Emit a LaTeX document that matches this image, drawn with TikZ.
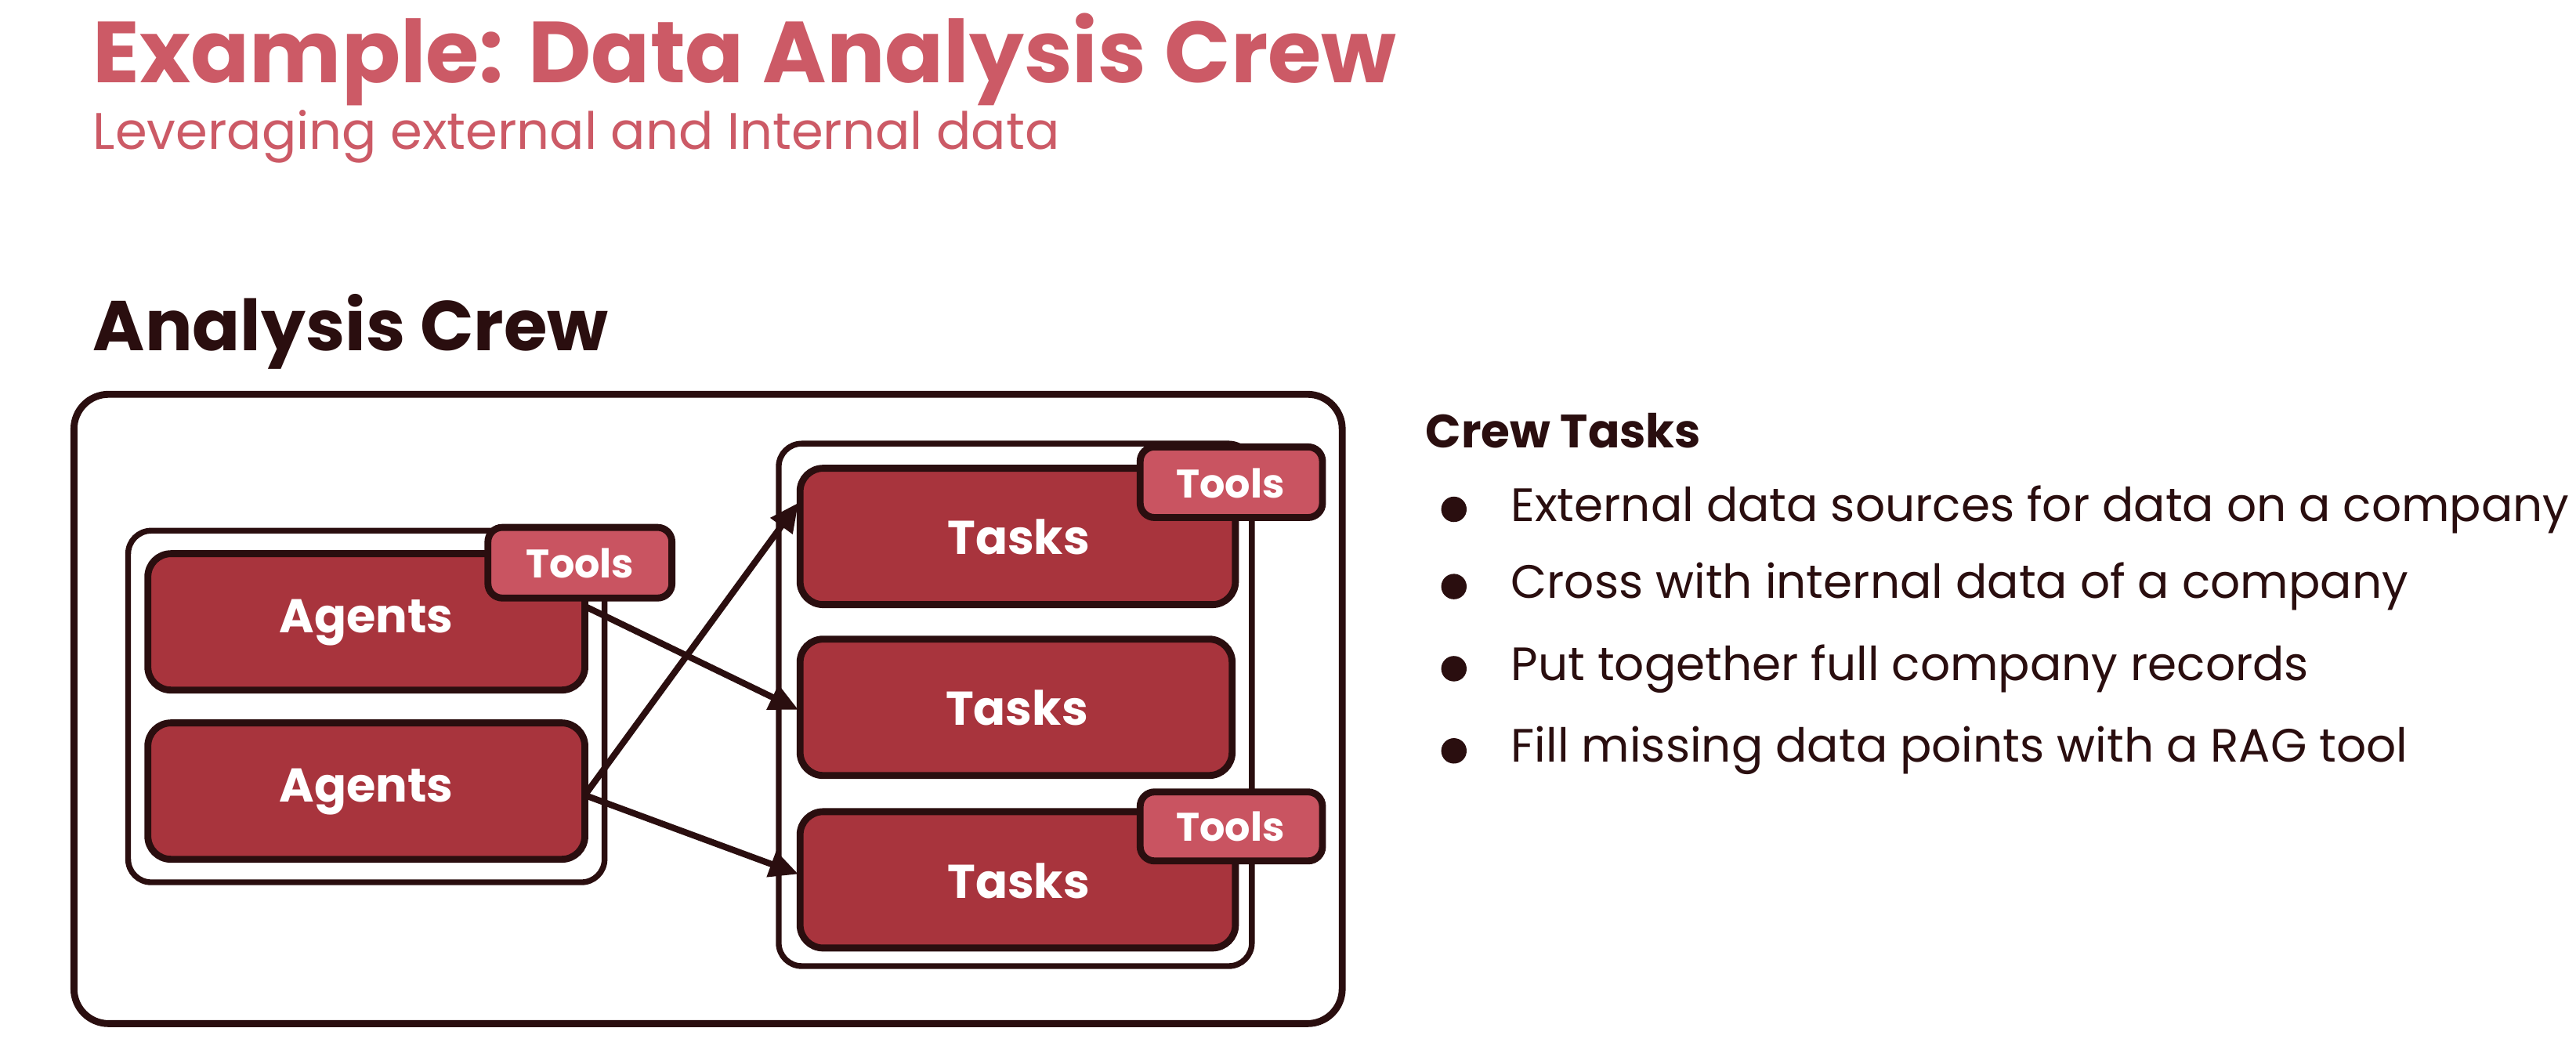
\documentclass[tikz,border=0pt]{standalone}
\usepackage{fontspec}
\setmainfont{Poppins}
\usetikzlibrary{arrows.meta}
\definecolor{ttl}{HTML}{CC5A66}
\definecolor{drk}{HTML}{2A0E0F}
\definecolor{boxr}{HTML}{A8343D}
\definecolor{tagr}{HTML}{C95461}
\tikzset{
 cont/.style={draw=drk,line width=1pt,rounded corners=4pt,fill=white},
 big/.style={draw=drk,line width=1.2pt,rounded corners=4pt,fill=boxr},
 tag/.style={draw=drk,line width=1.2pt,rounded corners=2.5pt,fill=tagr},
 bigt/.style={text=white,font=\bfseries\fontsize{8.2}{9}\selectfont},
 tagt/.style={text=white,font=\bfseries\fontsize{6.9}{8}\selectfont},
 arr/.style={draw=drk,line width=1.1pt,-{Triangle[length=5pt,width=4.5pt]}},
 bl/.style={anchor=west,text=drk,font=\fontsize{8.1}{9}\selectfont,inner sep=0pt}
}
\begin{document}
\begin{tikzpicture}[x=0.01cm,y=-0.01cm]
\useasboundingbox[fill=white] (0,0) rectangle (1568,643);
\node[anchor=west,inner sep=0pt,text=ttl,font=\bfseries\fontsize{15}{17}\selectfont] (title) at (56,36) {Example: Data Analysis Crew};
\node[anchor=west,inner sep=0pt,text=ttl,font=\fontsize{8.9}{10}\selectfont] (sub) at (56,83) {Leveraging external and Internal data};
\node[anchor=west,inner sep=0pt,text=drk,font=\bfseries\fontsize{12.2}{14}\selectfont] (ac) at (56,202) {Analysis Crew};
\draw[cont,line width=1.2pt,rounded corners=6pt] (45,240) rectangle (817,623);
% agents
\draw[cont] (78,323) rectangle (368,537);
\draw[big] (90,337) rectangle (356,420);
\node[bigt] (ag1) at (223,379) {Agents};
\draw[big] (90,440) rectangle (356,523);
\node[bigt] (ag2) at (223,482) {Agents};
\draw[tag] (297,321) rectangle (409,364);
\node[tagt] (t0) at (353,343) {Tools};
% tasks
\draw[cont] (474,270) rectangle (762,588);
\draw[big] (487,285) rectangle (752,368);
\node[bigt] (k1) at (620,327) {Tasks};
\draw[big] (487,389) rectangle (750,472);
\node[bigt] (k2) at (619,431) {Tasks};
\draw[big] (487,494) rectangle (752,577);
\node[bigt] (k3) at (620,536) {Tasks};
\draw[tag] (694,272) rectangle (805,315);
\node[tagt] (t1) at (749,294) {Tools};
\draw[tag] (694,482) rectangle (805,524);
\node[tagt] (t2) at (749,503) {Tools};
\coordinate (s1) at (356,369);
\coordinate (s2) at (356,484);
\coordinate (e1) at (486,306);
\coordinate (e2) at (486,432);
\coordinate (e3) at (486,532);
\draw[arr] (s1) -- (e2);
\draw[arr] (s2) -- (e1);
\draw[arr] (s2) -- (e3);
% right list
\node[anchor=west,inner sep=0pt,text=drk,font=\bfseries\fontsize{8.1}{9}\selectfont] (ct) at (867,262) {Crew Tasks};
\foreach \y/\t [count=\i] in {310/External data sources for data on a company,357/Cross with internal data of a company,407/Put together full company records,457/Fill missing data points with a RAG tool}{
 \fill[drk] (885,\y) circle (2.2pt);
 \node[bl] (b\i) at (919,\y) {\t};
}
\end{tikzpicture}
\end{document}
